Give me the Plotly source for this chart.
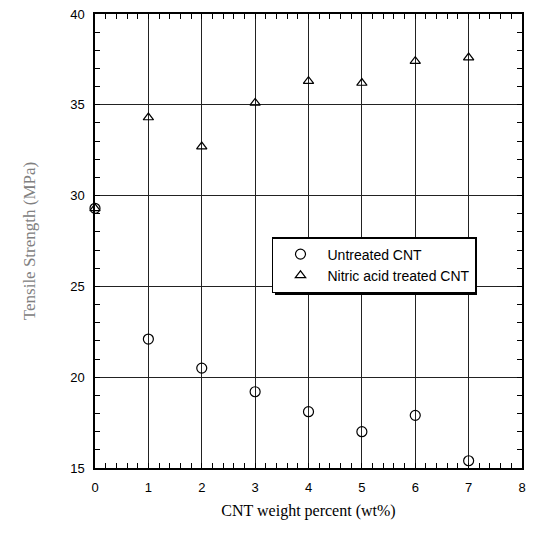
import plotly.graph_objects as go

cnt_wt = [0, 1, 2, 3, 4, 5, 6, 7]
untreated = [29.3, 22.1, 20.5, 19.2, 18.1, 17.0, 17.9, 15.4]
nitric = [29.3, 34.3, 32.7, 35.1, 36.3, 36.2, 37.4, 37.6]
x_ticks = [0, 1, 2, 3, 4, 5, 6, 7, 8]
y_ticks = [15, 20, 25, 30, 35, 40]

fig = go.Figure()
fig.add_trace(go.Scatter(
    x=cnt_wt, y=untreated, mode="markers", name="Untreated CNT",
    marker=dict(symbol="circle-open", size=10, color="black", line=dict(width=1.2)),
    cliponaxis=False,
))
fig.add_trace(go.Scatter(
    x=cnt_wt, y=nitric, mode="markers", name="Nitric acid treated CNT",
    marker=dict(symbol="triangle-up-open", size=9, color="black", line=dict(width=1.2)),
    cliponaxis=False,
))

axis_common = dict(
    showline=True, linecolor="black", linewidth=1.5, mirror="ticks",
    ticks="inside", ticklen=5, tickcolor="black", tickwidth=1,
    showgrid=True, gridcolor="#222222", gridwidth=1,
    zeroline=False, automargin=False,
    tickfont=dict(family="Liberation Sans, Arial", size=13, color="black"),
)

fig.update_xaxes(
    range=[0, 8], tickvals=x_ticks, ticktext=[str(v) for v in x_ticks],
    minor=dict(ticks="inside", ticklen=5, dtick=0.2, tick0=0, tickcolor="black", showgrid=False),
    ticklabelstandoff=7,
    title=dict(text="CNT weight percent (wt%)", standoff=10,
               font=dict(family="Liberation Serif, Times New Roman", size=16, color="black")),
    **axis_common,
)
fig.update_yaxes(
    range=[15, 40], tickvals=y_ticks, ticktext=[str(v) for v in y_ticks],
    minor=dict(ticks="inside", ticklen=5, dtick=1, tick0=15, tickcolor="black", showgrid=False),
    ticklabelstandoff=6,
    title=dict(text="Tensile Strength (MPa)", standoff=30,
               font=dict(family="Liberation Serif, Times New Roman", size=17, color="#808080")),
    **axis_common,
)

fig.update_layout(
    width=534, height=547,
    margin=dict(l=95, r=12, t=14, b=79),
    paper_bgcolor="white", plot_bgcolor="white",
    showlegend=True,
    legend=dict(
        x=0.4145, y=0.5088, xanchor="left", yanchor="top",
        bgcolor="white", bordercolor="black", borderwidth=1.5,
        font=dict(family="Liberation Sans, Arial", size=14, color="black"),
        itemwidth=44, tracegroupgap=0,
    ),
)
# legend drop shadow
fig.add_shape(type="rect", xref="paper", yref="paper",
              x0=0.4215, x1=0.8946, y0=0.3811, y1=0.5022,
              fillcolor="black", line=dict(width=0), layer="above")

fig.write_html("out.html", config={"displayModeBar": False},
               post_script="document.body.style.margin='0px';")
